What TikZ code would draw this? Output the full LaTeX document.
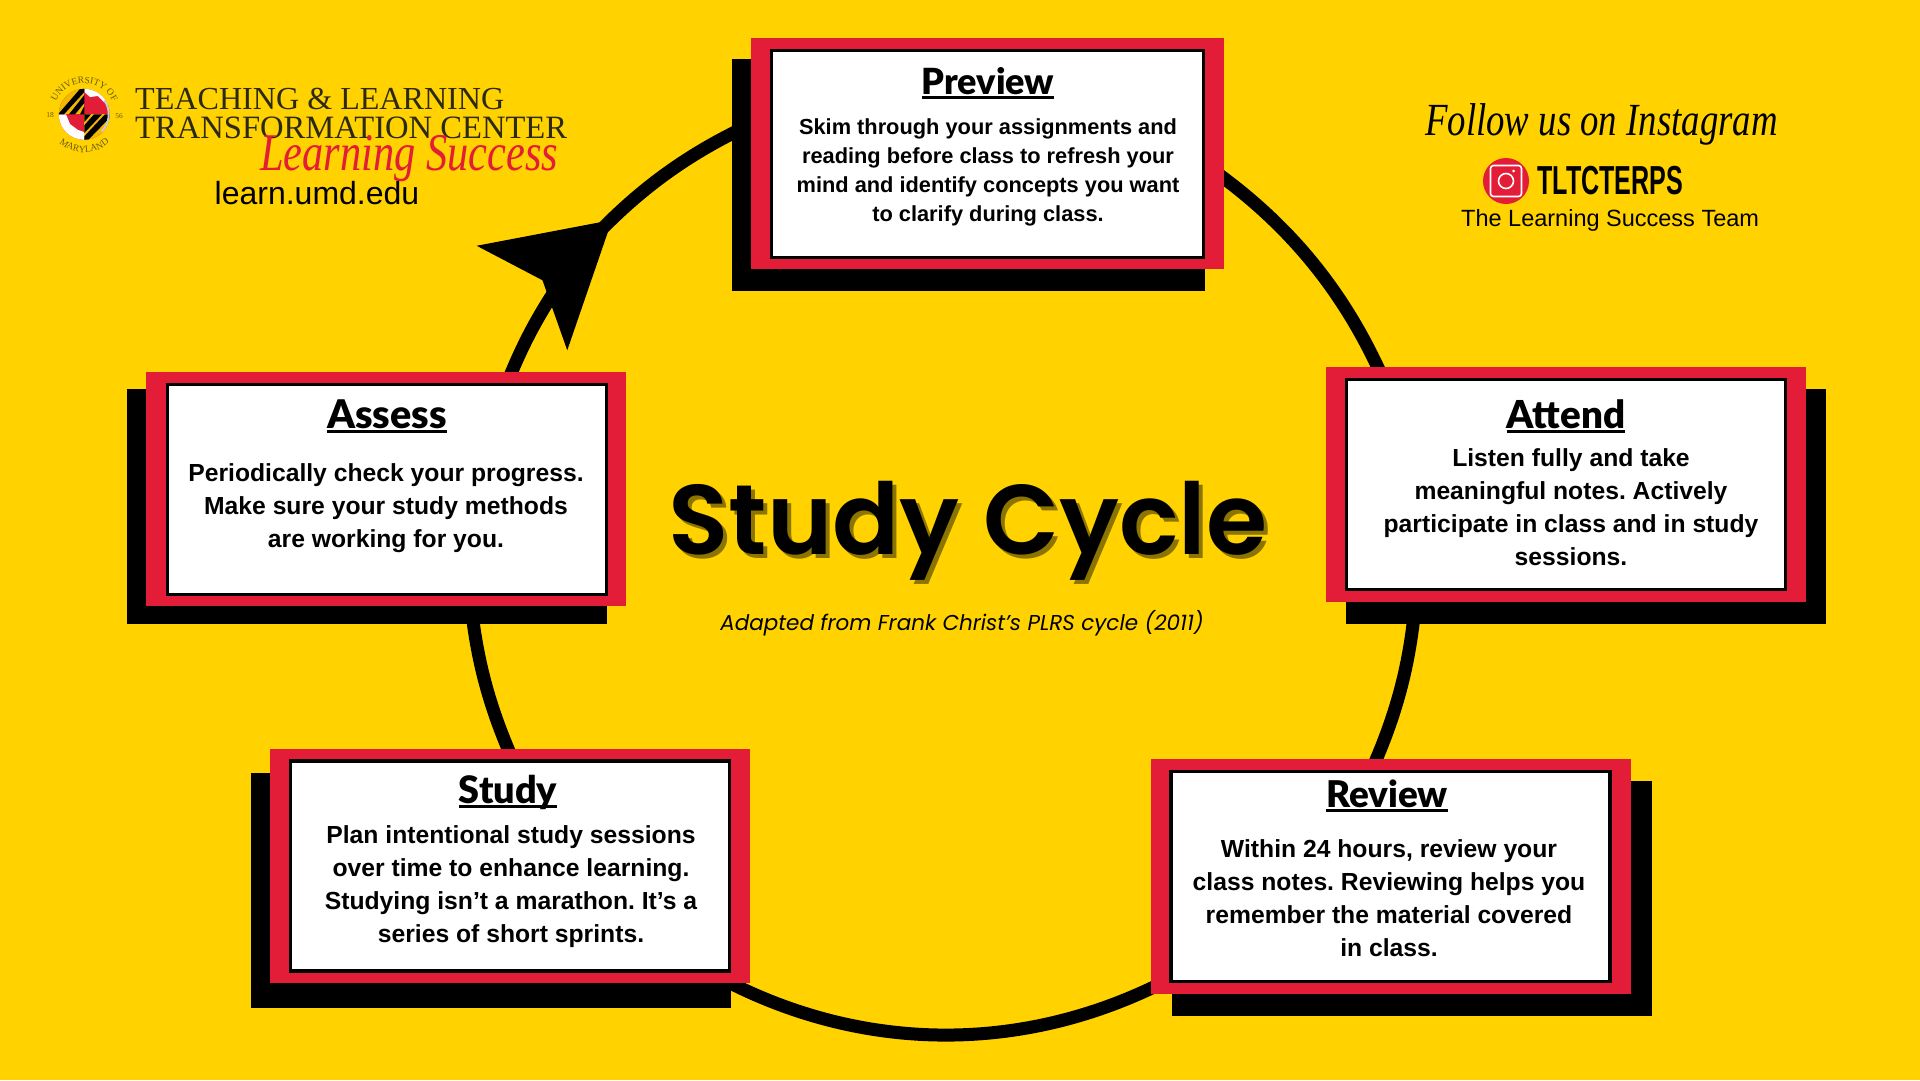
\documentclass[tikz,border=0pt]{standalone}
\usepackage{fontspec}
\setmainfont{Liberation Sans}
\newfontfamily\cycletitlefont{Poppins}[BoldFont={Poppins SemiBold}]
\newfontfamily\headfont{Lato}[BoldFont={Lato Black}]
\newfontfamily\logofont{Liberation Serif}
\newfontfamily\brushfont{Liberation Serif}[FakeStretch=0.8]
\newfontfamily\tagfont{Liberation Sans}[FakeStretch=0.62]
\usetikzlibrary{arrows.meta,backgrounds,decorations.text}
\frenchspacing
\definecolor{bgyellow}{HTML}{FFD200}
\definecolor{boxred}{HTML}{E31C37}
\definecolor{titleshade}{HTML}{8C7400}
\definecolor{logoink}{HTML}{2D2A14}
\definecolor{sealink}{HTML}{6A5A10}
\definecolor{sealgold}{HTML}{F2B705}
\newcommand{\ulhead}[1]{\setbox0\hbox{#1}\rlap{\rule[-5pt]{\wd0}{2.8pt}}\box0}
\tikzset{
  shadowbox/.style={fill=black, inner sep=0, minimum width=480, minimum height=235},
  redbox/.style={fill=boxred, inner sep=0, minimum width=480, minimum height=234},
  whitebox/.style={fill=white, draw=black, line width=3.5, inner sep=0, minimum width=439, minimum height=210},
  headtext/.style={anchor=base, inner sep=0, font=\headfont\fontsize{#1}{#1}\selectfont\bfseries},
  bodytext/.style={inner sep=0, align=center, font=\fontsize{24.7}{33}\selectfont\bfseries},
  logotext/.style={anchor=base west, inner sep=0, text=logoink, font=\logofont\fontsize{#1}{#1}\selectfont},
  cyclearc/.style={line width=13, looseness=0.87, shorten <=-8pt, shorten >=-8pt},
  sealtext/.style={inner sep=0, text=sealink, font=\logofont\fontsize{7.5}{7.5}\selectfont},
}
\begin{document}
\begin{tikzpicture}[x=1pt, y=-1pt]
\useasboundingbox (0,0) rectangle (1920,1080);
% boxes
\node[shadowbox, minimum width=473, minimum height=232] (previewshadow) at (968.5,175) {};
\node[redbox, minimum width=473, minimum height=231] (preview) at (987.5,153.5) {};
\node[whitebox, minimum width=432, minimum height=207] (previewinner) at (987.5,154) {};
\node[shadowbox] (attendshadow) at (1586,506.5) {};
\node[redbox, minimum height=235] (attend) at (1566,484.5) {};
\node[whitebox] (attendinner) at (1566,484.5) {};
\node[shadowbox] (reviewshadow) at (1412,898) {};
\node[redbox, minimum height=235] (review) at (1391,876.5) {};
\node[whitebox] (reviewinner) at (1390.5,876.5) {};
\node[shadowbox] (studyshadow) at (491,890.5) {};
\node[redbox] (study) at (510,866) {};
\node[whitebox] (studyinner) at (510,866) {};
\node[shadowbox] (assessshadow) at (367,506.5) {};
\node[redbox] (assess) at (386,489) {};
\node[whitebox] (assessinner) at (387,489.5) {};
% cycle
\coordinate (arrowback) at (567,259);
\coordinate (arrowtip) at (612,220);
\coordinate (arrowneck) at (560,283);
\coordinate (arcstart) at (598,233);
\begin{scope}[on background layer]
\fill[bgyellow] (0,0) rectangle (1920,1080);
\draw[cyclearc] (preview.-6.15) to[bend left=14.75] (attend.148.27);
\draw[cyclearc] (attend.218.07) to[bend left=9.8] (review.97.75);
\draw[cyclearc, looseness=0.9] (review.205.11) to[bend left=26.8] (study.-28.78);
\draw[cyclearc] (study.91.96) to[bend left=9] (assess.-54.32);
\draw[cyclearc] (assess.43.8) to[bend left=6.25] (arrowneck);
\draw[cyclearc] (arcstart) to[bend left=11.3] (preview.173.73);
\draw[line width=2, -{Stealth[length=119pt, width=138pt, inset=27pt]}] (arrowback) -- (arrowtip);
\end{scope}
% box texts
\node[headtext=36] (previewtitle) at (988,94) {\ulhead{Preview}};
\node[bodytext, font=\fontsize{21.8}{29}\selectfont\bfseries] (previewtext) at (988,172.5) {Skim through your assignments and\\reading before class to refresh your\\mind and identify concepts you want\\to clarify during class.};
\node[headtext=39.5] (assesstitle) at (387,428) {\ulhead{Assess}};
\node[bodytext] (assesstext) at (386,508) {Periodically check your progress.\\Make sure your study methods\\are working for you.};
\node[headtext=38.5] (attendtitle) at (1566,428) {\ulhead{Attend}};
\node[bodytext] (attendtext) at (1571,507.5) {Listen fully and take\\meaningful notes. Actively\\participate in class and in study\\sessions.};
\node[headtext=36.8] (reviewtitle) at (1387,807) {\ulhead{Review}};
\node[bodytext] (reviewtext) at (1389,898.5) {Within 24 hours, review your\\class notes. Reviewing helps you\\remember the material covered\\in class.};
\node[headtext=37.8] (studytitle) at (508,803) {\ulhead{Study}};
\node[bodytext] (studytext) at (511,886.5) {Plan intentional study sessions\\over time to enhance learning.\\Studying isn’t a marathon. It’s a\\series of short sprints.};
% centre
\node[anchor=base, inner sep=0, text=titleshade, font=\cycletitlefont\fontsize{99}{99}\selectfont\bfseries] (cycleshade) at (972,558) {Study Cycle};
\node[anchor=base, inner sep=0, font=\cycletitlefont\fontsize{99}{99}\selectfont\bfseries] (cycletitle) at (968,554) {Study Cycle};
\node[anchor=base, inner sep=0, font=\cycletitlefont\fontsize{21.5}{21.5}\selectfont\itshape] (cyclesource) at (962,630) {Adapted from Frank Christ’s PLRS cycle (2011)};
% logo
\node[logotext=32.1] (teaching) at (135,109) {TEACHING \& LEARNING};
\node[logotext=32.6] (transform) at (135,138) {TRANSFORMATION CENTER};
\node[anchor=base west, inner sep=0, text=boxred, font=\brushfont\fontsize{53}{53}\selectfont\itshape] (success) at (260,170) {Learning Success};
\node[anchor=base, inner sep=0, font=\fontsize{32}{32}\selectfont] (learnurl) at (317,204) {learn.umd.edu};
\coordinate (sealcentre) at (84.3,114.3);
\begin{scope}
\clip (sealcentre) circle[radius=25.5];
\fill[boxred] (58,88) rectangle (111,141);
\fill[sealgold] (58,88) rectangle (84.3,114.3);
\fill[sealgold] (84.3,114.3) rectangle (111,141);
% white parts of the two red quarters
\fill[white] (84.3,88) -- (111,88) -- (111,106) -- (104,102) -- (98,96) -- (90,97) -- (84.3,92) -- cycle;
\fill[white] (58,114.3) -- (66,114.3) -- (70,124) -- (78,130) -- (84.3,132) -- (84.3,141) -- (58,141) -- cycle;
\foreach \k in {0,11,22} {
  \fill[black] (58+\k,114.3) -- (64+\k,114.3) -- (84.3,92+\k) -- (84.3,84+\k) -- cycle;
  \fill[black] (84.3,114.3+\k) -- (84.3,122+\k) -- (102+\k-11,114.3) -- (94+\k-11,114.3) -- cycle;
}
\end{scope}
\draw[white!80!black, line width=2] (sealcentre)+(-35:24.5) arc[start angle=-35, end angle=45, radius=24.5];
\path[decorate, decoration={text along path, text align=center, text={|\logofont\fontsize{9.5}{9.5}\selectfont\color{sealink}|UNIVERSITY OF}}] (sealcentre)+(188:31) arc[start angle=188, end angle=352, radius=31];
\path[decorate, decoration={text along path, text align=center, text={|\logofont\fontsize{9.5}{9.5}\selectfont\color{sealink}|MARYLAND}}] (sealcentre)+(150:38) arc[start angle=150, end angle=30, radius=38];
\node[sealtext] (sealleft) at (50,115) {18};
\node[sealtext] (sealright) at (119,116) {56};
% instagram
\node[anchor=base west, inner sep=0, font=\brushfont\fontsize{46}{46}\selectfont\itshape] (followus) at (1425,135) {Follow us on Instagram};
\node[circle, fill=boxred, inner sep=0, minimum size=46] (igcircle) at (1506,181) {};
\node[draw=white, line width=1.6, rounded corners=3, inner sep=0, minimum size=31] (igframe) at (igcircle) {};
\node[circle, draw=white, line width=1.6, inner sep=0, minimum size=15] (iglens) at (igcircle) {};
\node[circle, fill=white, inner sep=0, minimum size=3] (igdot) at (1513.5,171) {};
\node[anchor=base west, inner sep=0, font=\tagfont\fontsize{40.5}{40.5}\selectfont\bfseries] (igname) at (1537,194) {TLTCTERPS};
\node[anchor=base west, inner sep=0, font=\fontsize{23.5}{23.5}\selectfont] (teamname) at (1461,226) {The Learning Success Team};
\end{tikzpicture}
\end{document}
